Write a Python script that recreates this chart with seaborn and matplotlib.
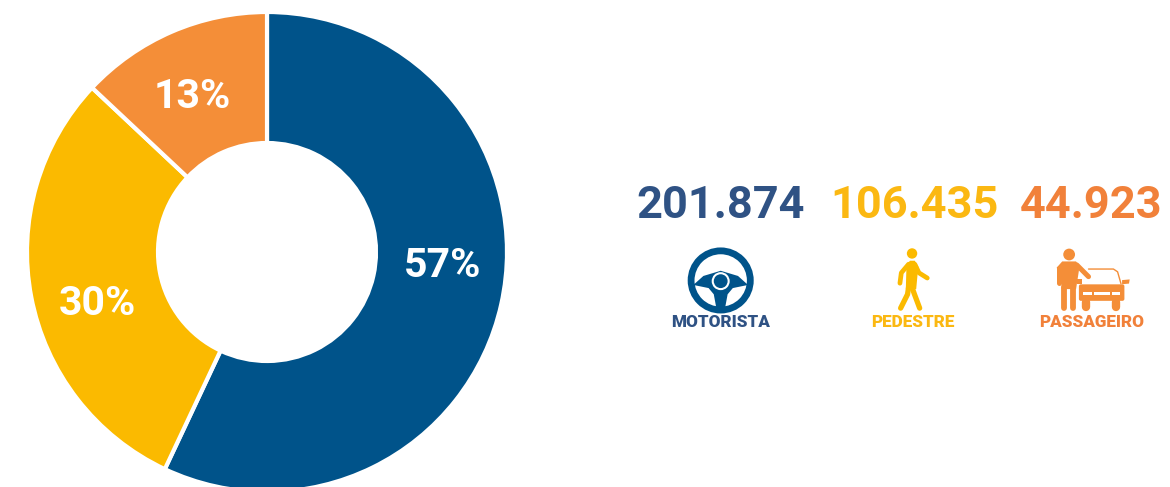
import matplotlib
matplotlib.use('Agg')
import matplotlib.pyplot as plt
import seaborn as sns
from matplotlib.patches import Circle, Rectangle, Polygon, FancyBboxPatch

categories = ['MOTORISTA', 'PEDESTRE', 'PASSAGEIRO']
totals = ['201.874', '106.435', '44.923']
pct_values = [57, 30, 13]
pct_labels = ['57%', '30%', '13%']
colors = ['#00538a', '#fbba00', '#f48e38']
text_colors = ['#2f5284', '#fbb812', '#f1813a']

W, H = 1170, 487
S = 2.89  # scale of the crop the icon outlines were read from
sns.set_theme(style='white')
plt.rcParams['font.family'] = ['Roboto', 'DejaVu Sans']

fig = plt.figure(figsize=(W / 100, H / 100), dpi=100)
ax = fig.add_axes([0, 0, 1, 1])


def z(x, y):
    return 629 + x / S, 168 + y / S


def poly(points, color):
    ax.add_patch(Polygon([z(*p) for p in points], fc=color, ec='none', zorder=3))


def stroke(points, color, width):
    xy = [z(*p) for p in points]
    ax.plot([p[0] for p in xy], [p[1] for p in xy], color=color, lw=width,
            solid_capstyle='round', solid_joinstyle='round', zorder=3)


def disc(x, y, r, color):
    ax.add_patch(Circle(z(x, y), r / S, fc=color, ec='none', zorder=4))


# donut, y axis is flipped so -90 is 12 o'clock and it runs clockwise
cx, cy, r = 267, 252, 240
ax.pie(pct_values, colors=colors, startangle=-90, counterclock=True,
       center=(cx, cy), radius=r, frame=False,
       wedgeprops=dict(width=r - 109, edgecolor='white', linewidth=3))
ax.set_xlim(0, W)
ax.set_ylim(H, 0)
ax.set_aspect('equal')
ax.axis('off')

for (x, y), s in zip([(443, 266), (97, 304), (192, 97)], pct_labels):
    ax.text(x, y, s, color='white', fontsize=29.5, fontweight='bold', ha='center', va='center')

for x, s, c in zip([721, 914, 1091], totals, text_colors):
    ax.text(x, 206, s, color=c, fontsize=32.5, fontweight='bold', ha='center', va='center')
for x, s, c in zip([721, 913, 1092], categories, text_colors):
    ax.text(x, 322, s, color=c, fontsize=12.3, fontweight='black', ha='center', va='center')

# steering wheel
c = colors[0]
ax.add_patch(Circle(z(265, 325), 29.6, fc='none', ec=c, lw=4.9, zorder=3))
poly([(186, 338), (215, 312), (265, 297), (315, 312), (344, 338), (300, 347), (285, 365),
      (277, 408), (253, 408), (245, 365), (230, 347)], c)
disc(265, 327, 26, 'white')
disc(265, 327, 20, c)

# pedestrian
c = colors[1]
disc(818, 247, 15, c)
poly([(802, 280), (812, 268), (826, 268), (836, 285), (830, 350), (800, 350)], c)
stroke([(808, 278), (787, 303), (783, 333)], c, 3.4)
stroke([(826, 278), (838, 303), (862, 318)], c, 3.4)
stroke([(808, 345), (805, 365), (785, 405)], c, 3.8)
stroke([(818, 345), (825, 365), (840, 405)], c, 3.8)

# person next to a car
c = colors[2]
disc(1272, 250, 17, c)
poly([(1236, 288), (1252, 270), (1292, 270), (1302, 285), (1292, 350), (1250, 350), (1250, 320)], c)
stroke([(1243, 288), (1243, 332)], c, 3.6)
stroke([(1294, 280), (1328, 314)], c, 3.6)
stroke([(1258, 345), (1258, 404)], c, 4.2)
stroke([(1284, 345), (1284, 404)], c, 4.2)
stroke([(1328, 292), (1400, 292), (1412, 300), (1422, 335)], c, 1)
ax.add_patch(FancyBboxPatch(z(1306, 342), 41.5, 12.5, boxstyle='round,pad=2', fc=c, ec='none', zorder=3))
stroke([(1320, 388), (1320, 402)], c, 6)
stroke([(1407, 388), (1407, 402)], c, 6)
poly([(1425, 324), (1447, 322), (1445, 334), (1425, 336)], c)
poly([(1296, 322), (1308, 322), (1308, 336), (1296, 336)], c)
for x0, w in [(1313, 25), (1345, 45), (1395, 25)]:
    ax.add_patch(Rectangle(z(x0, 358), w / S, 10 / S, fc='white', ec='none', zorder=4))

fig.savefig('out.png', dpi=100, facecolor='white')
